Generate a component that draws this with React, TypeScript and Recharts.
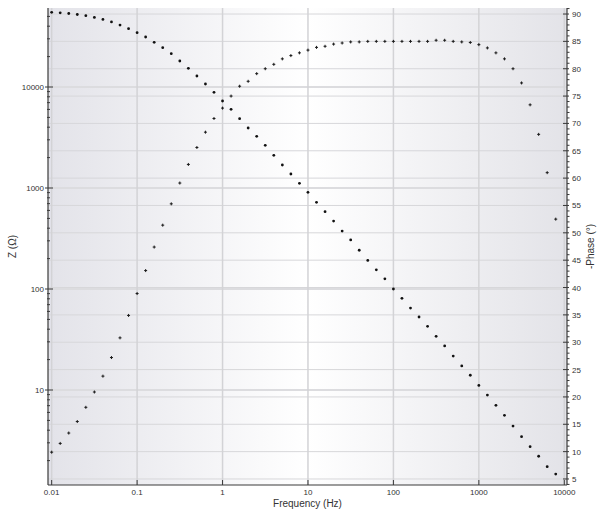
import { ComposedChart, Scatter, XAxis, YAxis, CartesianGrid } from 'recharts';

// Impedance sweep, 10 points per decade
const frequencies = [
  0.01, 0.01259, 0.01585, 0.01995, 0.02512, 0.03162, 0.03981, 0.05012, 0.0631, 0.07943,
  0.1, 0.1259, 0.1585, 0.1995, 0.2512, 0.3162, 0.3981, 0.5012, 0.631, 0.7943,
  1, 1.259, 1.585, 1.995, 2.512, 3.162, 3.981, 5.012, 6.31, 7.943,
  10, 12.59, 15.85, 19.95, 25.12, 31.62, 39.81, 50.12, 63.1, 79.43,
  100, 125.9, 158.5, 199.5, 251.2, 316.2, 398.1, 501.2, 631, 794.3,
  1000, 1259, 1585, 1995, 2512, 3162, 3981, 5012, 6310, 7943,
];

const impedance = [
  54900, 54200, 53400, 52200, 50800, 48900, 46700, 44100, 41000, 37800,
  34480, 31260, 27700, 24500, 21370, 18090, 15310, 12850, 10710, 8860,
  7270, 6015, 4855, 3928, 3250, 2647, 2108, 1690, 1376, 1113,
  907, 722, 583, 471, 375, 306, 242, 192, 155, 126,
  100, 80.9, 64.8, 52.8, 42.7, 34.0, 27.3, 21.7, 17.3, 14.0,
  11.1, 8.92, 7.06, 5.62, 4.4, 3.45, 2.75, 2.21, 1.74, 1.47,
];

const phase = [
  9.9, 11.5, 13.4, 15.5, 18.1, 20.9, 23.8, 27.2, 30.8, 34.9,
  38.9, 43.1, 47.4, 51.4, 55.3, 59.1, 62.5, 65.6, 68.4, 70.9,
  72.8, 75.0, 76.8, 77.7, 79.1, 80.0, 80.8, 81.8, 82.4, 82.9,
  83.4, 83.9, 84.1, 84.5, 84.7, 84.9, 84.9, 85.0, 85.0, 85.0,
  85.0, 85.0, 85.0, 85.0, 85.0, 85.2, 85.2, 85.0, 84.9, 84.8,
  84.4, 83.8, 82.9, 81.8, 80.0, 77.4, 73.4, 68.0, 61.0, 52.5,
];

const freqTicks = [0.01, 0.1, 1, 10, 100, 1000, 10000];
const zDecades = [1, 10, 100, 1000, 10000];
const zLabels = [10, 100, 1000, 10000];
const phaseTicks = [5, 10, 15, 20, 25, 30, 35, 40, 45, 50, 55, 60, 65, 70, 75, 80, 85, 90];

const FREQ_DOMAIN = [0.00906, 10760];
const Z_DOMAIN = [1.147, 60560];
const PHASE_DOMAIN = [3.9, 91.1];

const rows = frequencies.map((f, i) => ({ f, z: impedance[i], phase: phase[i] }));

// minor ticks: 1..9 per decade on Z, every degree on phase
const zTicks = zDecades
  .flatMap((d) => [1, 2, 3, 4, 5, 6, 7, 8, 9].map((m) => m * d))
  .filter((v) => v > Z_DOMAIN[0] && v < 55000);
const phaseAllTicks: number[] = [];
for (let v = 4; v <= 91; v++) phaseAllTicks.push(v);

const FONT = '"Liberation Sans", Arial, sans-serif';
const AXIS = '#3a3a3a';
const TEXT = '#333';

// eslint-disable-next-line @typescript-eslint/no-explicit-any
function BottomTick({ x, y, payload }: any) {
  return (
    <g>
      <line x1={x} x2={x} y1={y} y2={y - 5} stroke={AXIS} />
      <text x={x} y={y + 10} textAnchor="middle" fontSize={8} fontFamily={FONT} fill={TEXT}>
        {payload.value}
      </text>
    </g>
  );
}

// eslint-disable-next-line @typescript-eslint/no-explicit-any
function TopTick({ x, y }: any) {
  return <line x1={x} x2={x} y1={y} y2={y + 4} stroke={AXIS} />;
}

// eslint-disable-next-line @typescript-eslint/no-explicit-any
function LeftTick({ x, y, payload }: any) {
  const major = zLabels.includes(payload.value);
  if (!major) return <line x1={x - 1} x2={x + 2} y1={y} y2={y} stroke={AXIS} />;
  return (
    <g>
      <line x1={x - 3} x2={x + 5} y1={y} y2={y} stroke={AXIS} />
      <text x={x - 4} y={y + 3} textAnchor="end" fontSize={8} fontFamily={FONT} fill={TEXT}>
        {payload.value}
      </text>
    </g>
  );
}

// eslint-disable-next-line @typescript-eslint/no-explicit-any
function RightTick({ x, y, payload }: any) {
  const major = payload.value % 5 === 0;
  if (!major) return <line x1={x} x2={x + 2.5} y1={y} y2={y} stroke={AXIS} />;
  return (
    <g>
      <line x1={x - 4} x2={x + 2} y1={y} y2={y} stroke={AXIS} />
      <text x={x + 5} y={y + 3} textAnchor="start" fontSize={8} fontFamily={FONT} fill={TEXT}>
        {payload.value}
      </text>
    </g>
  );
}

// eslint-disable-next-line @typescript-eslint/no-explicit-any
const zDot = (p: any) => <circle cx={p.cx} cy={p.cy} r={1.4} fill="#111" />;
// eslint-disable-next-line @typescript-eslint/no-explicit-any
const phaseDot = (p: any) => (
  <path d={`M${p.cx - 1.5},${p.cy}h3M${p.cx},${p.cy - 1.5}v3`} stroke="#1a1a1a" strokeWidth={1} />
);

export default function App() {
  return (
    <div style={{ position: 'absolute', left: 0, top: 0 }}>
      <ComposedChart width={600} height={516} data={rows} margin={{ top: 8, right: 0, left: 0, bottom: 0 }}>
        <defs>
          <linearGradient id="bg" x1="0" y1="0" x2="1" y2="0">
            <stop offset="0%" stopColor="#e3e3e9" />
            <stop offset="50%" stopColor="#ffffff" />
            <stop offset="100%" stopColor="#e3e3e8" />
          </linearGradient>
        </defs>
        <CartesianGrid
          yAxisId="phase"
          vertical={false}
          horizontalValues={phaseTicks}
          stroke="#d7d7da"
          fill="url(#bg)"
          fillOpacity={1}
        />
        <CartesianGrid yAxisId="z" vertical={false} horizontalValues={zLabels} stroke="#dcdcdf" strokeWidth={2} />
        <CartesianGrid horizontal={false} verticalValues={freqTicks} stroke="#d3d3d6" strokeWidth={1.5} />
        <XAxis
          dataKey="f"
          type="number"
          scale="log"
          domain={FREQ_DOMAIN}
          allowDataOverflow
          ticks={freqTicks}
          interval={0}
          height={31}
          tickSize={0}
          tickMargin={0}
          tick={<BottomTick />}
          axisLine={{ stroke: AXIS, strokeWidth: 1.2 }}
          label={{
            // eslint-disable-next-line @typescript-eslint/no-explicit-any
            content: (p: any) => (
              <text
                x={p.viewBox.x + p.viewBox.width / 2}
                y={p.viewBox.y + 22}
                textAnchor="middle"
                fontSize={10}
                fontFamily={FONT}
                fill={TEXT}
              >
                Frequency (Hz)
              </text>
            ),
          }}
        />
        <XAxis
          xAxisId="top"
          orientation="top"
          dataKey="f"
          type="number"
          scale="log"
          domain={FREQ_DOMAIN}
          allowDataOverflow
          ticks={freqTicks}
          interval={0}
          height={0}
          tickSize={0}
          tickMargin={0}
          tick={<TopTick />}
          axisLine={{ stroke: AXIS, strokeWidth: 1.2 }}
        />
        <YAxis
          yAxisId="z"
          dataKey="z"
          type="number"
          scale="log"
          domain={Z_DOMAIN}
          allowDataOverflow
          ticks={zTicks}
          interval={0}
          width={48}
          tickSize={0}
          tickMargin={0}
          tick={<LeftTick />}
          axisLine={{ stroke: AXIS, strokeWidth: 1.2 }}
          label={{
            // eslint-disable-next-line @typescript-eslint/no-explicit-any
            content: (p: any) => {
              const cx = p.viewBox.x + 12;
              const cy = p.viewBox.y + p.viewBox.height / 2;
              return (
                <text
                  transform={`translate(${cx},${cy}) rotate(-90)`}
                  textAnchor="middle"
                  dominantBaseline="central"
                  fontSize={10}
                  fontFamily={FONT}
                  fill={TEXT}
                >
                  Z (Ω)
                </text>
              );
            },
          }}
        />
        <YAxis
          yAxisId="phase"
          orientation="right"
          dataKey="phase"
          type="number"
          domain={PHASE_DOMAIN}
          allowDataOverflow
          ticks={phaseAllTicks}
          interval={0}
          width={33}
          tickSize={0}
          tickMargin={0}
          tick={<RightTick />}
          axisLine={{ stroke: AXIS, strokeWidth: 1.2 }}
          label={{
            // eslint-disable-next-line @typescript-eslint/no-explicit-any
            content: (p: any) => {
              const cx = p.viewBox.x + 23;
              const cy = p.viewBox.y + p.viewBox.height / 2;
              return (
                <text
                  transform={`translate(${cx},${cy}) rotate(-90)`}
                  textAnchor="middle"
                  dominantBaseline="central"
                  fontSize={10}
                  fontFamily={FONT}
                  fill={TEXT}
                >
                  -Phase (°)
                </text>
              );
            },
          }}
        />
        <Scatter yAxisId="z" dataKey="z" shape={zDot} isAnimationActive={false} />
        <Scatter yAxisId="phase" dataKey="phase" shape={phaseDot} isAnimationActive={false} />
      </ComposedChart>
    </div>
  );
}
